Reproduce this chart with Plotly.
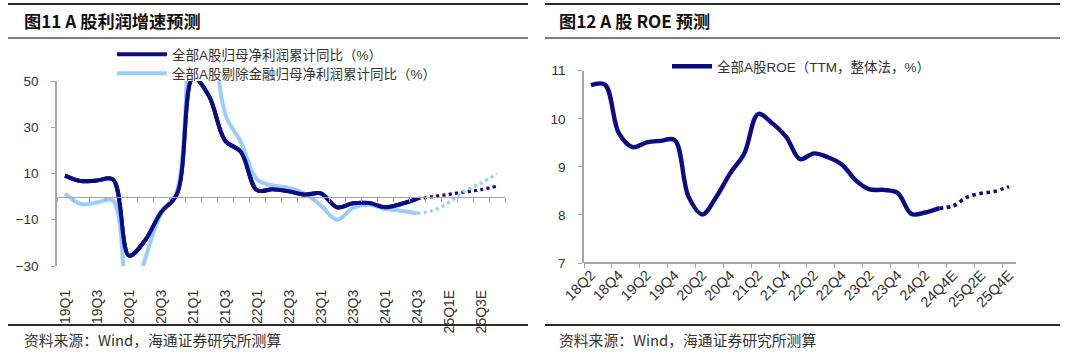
import plotly.graph_objects as go

W, H = 1080, 354

# ---------------- data ----------------
cats_left = ['19Q1', '19Q2', '19Q3', '19Q4', '20Q1', '20Q2', '20Q3', '20Q4',
             '21Q1', '21Q2', '21Q3', '21Q4', '22Q1', '22Q2', '22Q3', '22Q4',
             '23Q1', '23Q2', '23Q3', '23Q4', '24Q1', '24Q2', '24Q3',
             '24Q4E', '25Q1E', '25Q2E', '25Q3E', '25Q4E']
n_actual_left = 23
dark_actual = [9.1, 6.7, 7.0, 7.4, -25.5, -19.0, -6.8, 1.2,
               51.5, 43.5, 24.3, 19.3, 2.8, 3.2, 2.3, 0.9,
               1.4, -4.6, -2.9, -2.8, -4.6, -3.2, -1.0]
dark_forecast = [0.0, 1.0, 2.0, 3.0, 4.5]
light_actual = [1.4, -3.2, -2.5, -1.7, -50.0, -27.0, -7.5, 2.5,
                170.0, 110.0, 36.0, 23.6, 7.5, 4.8, 3.8, 1.2,
                -3.9, -10.0, -4.9, -3.5, -5.4, -6.1, -7.2]
light_forecast = [-6.0, -2.5, 2.5, 5.8, 10.0]
left_tick_labels = cats_left[::2]

cats_right = ['18Q2', '18Q3', '18Q4', '19Q1', '19Q2', '19Q3', '19Q4',
              '20Q1', '20Q2', '20Q3', '20Q4', '21Q1', '21Q2', '21Q3', '21Q4',
              '22Q1', '22Q2', '22Q3', '22Q4', '23Q1', '23Q2', '23Q3', '23Q4',
              '24Q1', '24Q2', '24Q3', '24Q4E', '25Q1E', '25Q2E', '25Q3E', '25Q4E']
n_actual_right = 26
roe_actual = [10.70, 10.71, 9.70, 9.41, 9.51, 9.54, 9.56, 8.38, 8.01, 8.38,
              8.87, 9.28, 10.10, 9.91, 9.63, 9.16, 9.28, 9.20, 9.05, 8.72,
              8.53, 8.52, 8.46, 8.02, 8.05, 8.14]
roe_forecast = [8.19, 8.37, 8.45, 8.49, 8.59]
right_tick_labels = cats_right[::2]

name_dark = '全部A股归母净利润累计同比（%）'
name_light = '全部A股剔除金融归母净利润累计同比（%）'
name_roe = '全部A股ROE（TTM，整体法，%）'

DARK = '#0B0B85'
LIGHT = '#99CCFF'
AXC = '#A6A6A6'
TXT = '#333333'
FONT = 'Liberation Sans, Arial, Noto Sans CJK SC, sans-serif'
CJK = 'Noto Sans CJK SC, sans-serif'


def px_x(x):
    return x / W


def px_y(y):
    return 1 - y / H


# ---------------- geometry ----------------
L_dom_x = [px_x(57), px_x(505)]
L_dom_y = [px_y(266), px_y(81)]
L_range = [-30, 50]
R_dom_x = [px_x(584), px_x(1016)]
R_dom_y = [px_y(263), px_y(70.7)]
R_range = [7, 11]

zero_pos = L_dom_y[0] + (0 - L_range[0]) / (L_range[1] - L_range[0]) * (L_dom_y[1] - L_dom_y[0])

fig = go.Figure()

LW = 4.0
# left chart
fig.add_trace(go.Scatter(x=cats_left[:n_actual_left], y=dark_actual, name=name_dark,
                         mode='lines', line=dict(color=DARK, width=LW, shape='spline', smoothing=1.0),
                         xaxis='x', yaxis='y', legend='legend', hoverinfo='skip'))
fig.add_trace(go.Scatter(x=cats_left[:n_actual_left], y=light_actual, name=name_light,
                         mode='lines', line=dict(color=LIGHT, width=LW, shape='spline', smoothing=1.0),
                         xaxis='x', yaxis='y', legend='legend3', hoverinfo='skip'))
fig.add_trace(go.Scatter(x=cats_left[:n_actual_left], y=dark_actual, showlegend=False,
                         mode='lines', line=dict(color=DARK, width=LW, shape='spline', smoothing=1.0),
                         xaxis='x', yaxis='y', hoverinfo='skip'))
fig.add_trace(go.Scatter(x=cats_left[n_actual_left - 1:], y=[dark_actual[-1]] + dark_forecast,
                         showlegend=False, mode='lines',
                         line=dict(color=DARK, width=3.2, dash='dot', shape='spline'),
                         xaxis='x', yaxis='y', hoverinfo='skip'))
fig.add_trace(go.Scatter(x=cats_left[n_actual_left - 1:], y=[light_actual[-1]] + light_forecast,
                         showlegend=False, mode='lines',
                         line=dict(color=LIGHT, width=3.2, dash='dot', shape='spline'),
                         xaxis='x', yaxis='y', hoverinfo='skip'))
fig.add_trace(go.Scatter(x=cats_left, y=[0] * len(cats_left), showlegend=False, mode='lines',
                         line=dict(width=0), opacity=0, xaxis='x3', yaxis='y', hoverinfo='skip'))

# right chart
fig.add_trace(go.Scatter(x=cats_right[:n_actual_right], y=roe_actual, name=name_roe,
                         mode='lines', line=dict(color=DARK, width=4.4, shape='spline', smoothing=1.0),
                         xaxis='x2', yaxis='y2', legend='legend2', hoverinfo='skip'))
fig.add_trace(go.Scatter(x=cats_right[n_actual_right - 1:], y=[roe_actual[-1]] + roe_forecast,
                         showlegend=False, mode='lines',
                         line=dict(color=DARK, width=3.6, dash='dot', shape='spline'),
                         xaxis='x2', yaxis='y2', hoverinfo='skip'))
fig.add_trace(go.Scatter(x=cats_right, y=[R_range[0]] * len(cats_right), showlegend=False, mode='lines',
                         line=dict(width=0), opacity=0, xaxis='x4', yaxis='y2', hoverinfo='skip'))

legend_common = dict(xanchor='left', yanchor='top', bgcolor='rgba(0,0,0,0)',
                     font=dict(family=FONT, size=13.5, color=TXT))

fig.update_layout(
    width=W, height=H,
    margin=dict(l=0, r=0, t=0, b=0, autoexpand=False),
    paper_bgcolor='white', plot_bgcolor='rgba(0,0,0,0)',
    font=dict(family=FONT, color=TXT),
    xaxis=dict(domain=L_dom_x, anchor='y', type='category', categoryorder='array',
               categoryarray=cats_left, range=[-0.5, len(cats_left) - 0.5],
               showline=False, ticks='', showgrid=False, zeroline=False, automargin=False,
               tickmode='array', tickvals=left_tick_labels, ticktext=left_tick_labels,
               tickangle=-90, tickfont=dict(family=FONT, size=14, color=TXT), ticklabelstandoff=20),
    xaxis3=dict(domain=L_dom_x, anchor='free', overlaying='x', position=zero_pos,
                type='category', categoryorder='array', categoryarray=cats_left,
                range=[-0.5, len(cats_left) - 0.5], showline=True, linecolor=AXC, linewidth=1,
                ticks='outside', tickson='boundaries', ticklen=4, tickcolor=AXC, automargin=False,
                showticklabels=False, showgrid=False, zeroline=False),
    yaxis=dict(domain=L_dom_y, anchor='x', range=L_range, tick0=-30, dtick=20, automargin=False,
               showline=True, linecolor=AXC, linewidth=1.5, ticks='outside', ticklen=4,
               tickcolor=AXC, showgrid=False, zeroline=False, tickfont=dict(family=FONT, size=13.5, color=TXT),
               ticklabelstandoff=10),
    xaxis2=dict(domain=R_dom_x, anchor='y2', type='category', categoryorder='array',
                categoryarray=cats_right, range=[-0.5, len(cats_right) - 0.5],
                showline=False, ticks='', showgrid=False, zeroline=False, automargin=False,
                tickmode='array', tickvals=right_tick_labels, ticktext=right_tick_labels,
                tickangle=-45, tickfont=dict(family=FONT, size=14.5, color=TXT)),
    xaxis4=dict(domain=R_dom_x, anchor='free', overlaying='x2', position=R_dom_y[0],
                type='category', categoryorder='array', categoryarray=cats_right,
                range=[-0.5, len(cats_right) - 0.5], showline=True, linecolor=AXC, linewidth=1.5,
                ticks='outside', tickson='boundaries', ticklen=4, tickcolor=AXC, automargin=False,
                showticklabels=False, showgrid=False, zeroline=False),
    yaxis2=dict(domain=R_dom_y, anchor='x2', range=R_range, dtick=1, automargin=False,
                showline=True, linecolor=AXC, linewidth=1.5, ticks='outside', ticklen=4,
                tickcolor=AXC, showgrid=False, zeroline=False, tickfont=dict(family=FONT, size=13.5, color=TXT),
                ticklabelstandoff=10),
    legend=dict(x=px_x(112), y=px_y(39), itemwidth=50, **legend_common),
    legend3=dict(x=px_x(112), y=px_y(58), itemwidth=50, **legend_common),
    legend2=dict(x=px_x(667), y=px_y(51), itemwidth=40, **legend_common),
    showlegend=True,
)

line_dark = '#2B2B2B'
for x0, x1 in [(8, 528), (545, 1060)]:
    fig.add_shape(type='line', xref='paper', yref='paper', x0=px_x(x0), x1=px_x(x1),
                  y0=px_y(4), y1=px_y(4), line=dict(color=line_dark, width=2))
    fig.add_shape(type='line', xref='paper', yref='paper', x0=px_x(x0), x1=px_x(x1),
                  y0=px_y(38), y1=px_y(38), line=dict(color='#555555', width=1.5))
    fig.add_shape(type='line', xref='paper', yref='paper', x0=px_x(x0), x1=px_x(x1),
                  y0=px_y(325), y1=px_y(325), line=dict(color=line_dark, width=2))

titles = [(22, '图11 A 股利润增速预测'), (557, '图12 A 股 ROE 预测')]
for x, t in titles:
    fig.add_annotation(xref='paper', yref='paper', x=px_x(x), y=px_y(20), xanchor='left',
                       yanchor='middle', showarrow=False, text='<b>' + t + '</b>',
                       font=dict(family=CJK, size=17.2, color='#111111'))
for x in (22, 557):
    fig.add_annotation(xref='paper', yref='paper', x=px_x(x), y=px_y(339), xanchor='left',
                       yanchor='middle', showarrow=False, text='资料来源：Wind，海通证券研究所测算',
                       font=dict(family=CJK, size=14.8, color=TXT))

fig.write_html('out.html', post_script="document.body.style.margin='0';")
